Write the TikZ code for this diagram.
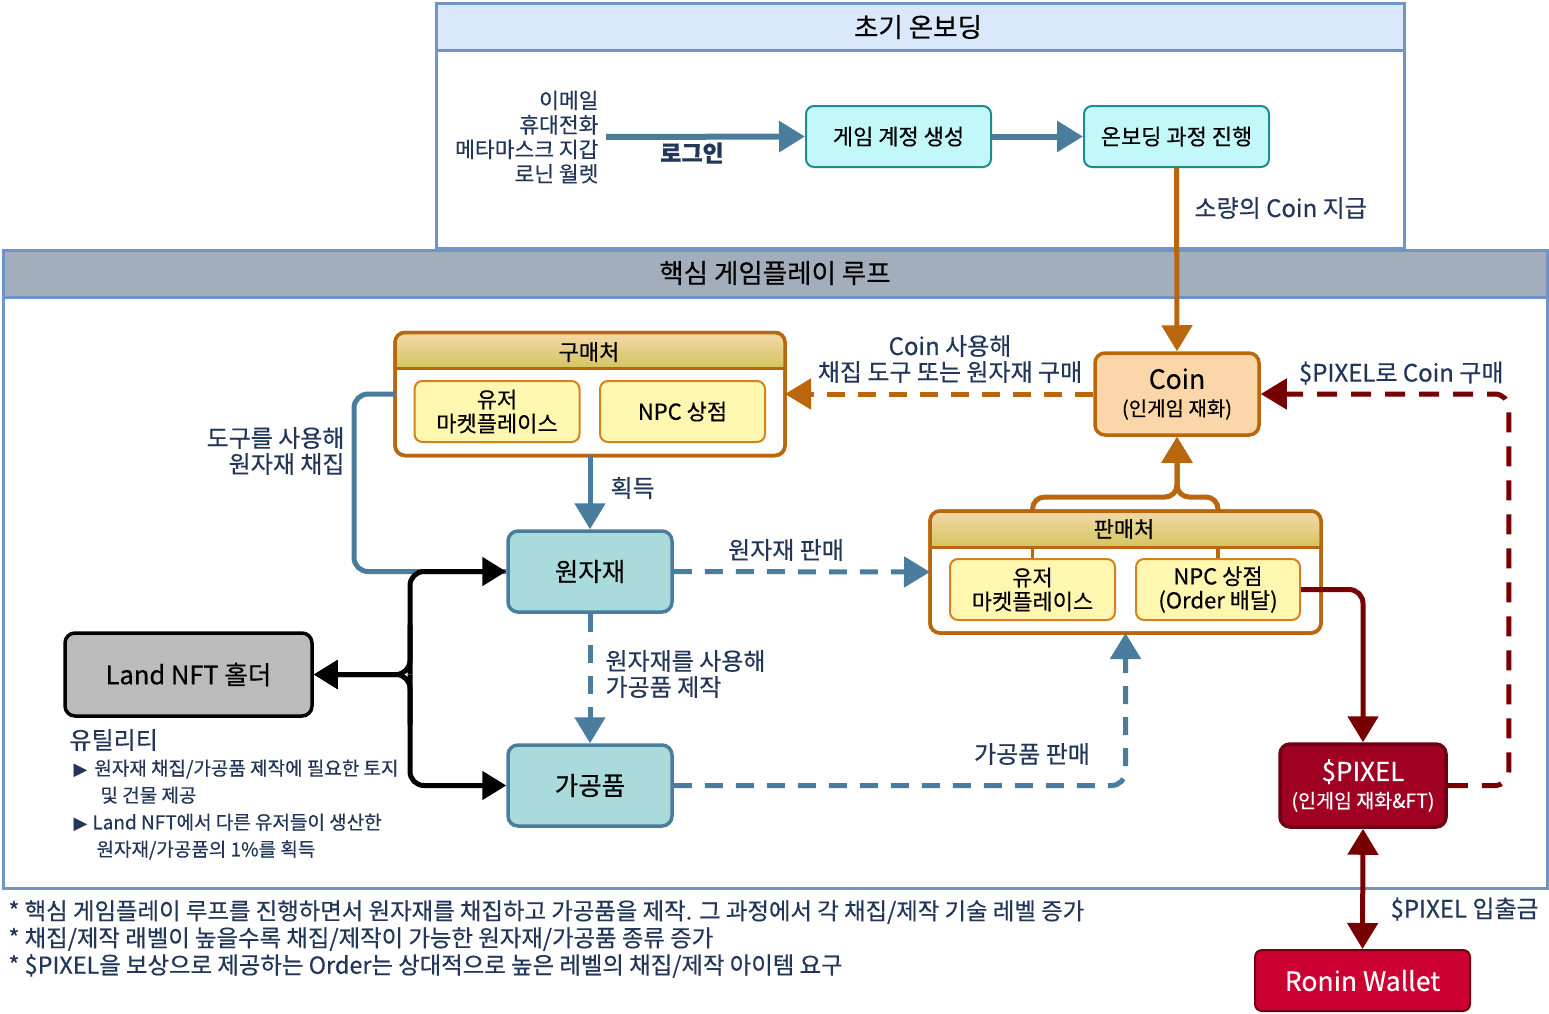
\documentclass[tikz,border=0pt]{standalone}
\usepackage{fontspec}
\setmainfont{Noto Sans CJK KR}[FakeBold=0.4]
\newfontfamily\symfont{DejaVu Sans}
\usepackage{tikz}
\usetikzlibrary{arrows.meta, positioning, calc}
\definecolor{PanelBlue}{HTML}{7094C8}
\definecolor{HeadBlue}{HTML}{DAE8FC}
\definecolor{HeadGray}{HTML}{A3AEBC}
\definecolor{LabelNavy}{HTML}{22365A}
\definecolor{SteelBlue}{HTML}{4A7C9E}
\definecolor{CyanFill}{HTML}{C2F8FA}
\definecolor{CyanEdge}{HTML}{1E8C8C}
\definecolor{TealFill}{HTML}{A9DADC}
\definecolor{CoinOrange}{HTML}{BA660C}
\definecolor{CoinFill}{HTML}{FBD6A8}
\definecolor{ShopFill}{HTML}{FFF7B0}
\definecolor{ShopEdge}{HTML}{D4821E}
\definecolor{GoldTop}{HTML}{F5D9A8}
\definecolor{GoldBottom}{HTML}{D2C460}
\definecolor{Maroon}{HTML}{780000}
\definecolor{PixelFill}{HTML}{A00022}
\definecolor{PixelEdge}{HTML}{6E0010}
\definecolor{RoninFill}{HTML}{CC0030}
\definecolor{LandGray}{HTML}{BBBBBB}
\newcommand\headfont{\fontsize{26.5}{30}\selectfont}
\newcommand\boxfont{\fontsize{22}{24}\selectfont}
\newcommand\bigfont{\fontsize{25.5}{29}\selectfont}
\newcommand\lblfont{\fontsize{24}{26}\selectfont}
\newcommand\listfont{\fontsize{21.5}{24.5}\selectfont}
\newcommand\utilfont{\fontsize{19}{27}\selectfont}
\newcommand\notefont{\fontsize{23.4}{27}\selectfont}

\begin{document}
\begin{tikzpicture}[
    x=1pt, y=-1pt,
    panel/.style={rectangle, draw=PanelBlue, line width=3pt, fill=white, outer sep=0pt, inner sep=0pt},
    stepbox/.style={rectangle, rounded corners=8pt, draw=CyanEdge, line width=2pt, fill=CyanFill,
                    minimum width=185pt, minimum height=61pt, font=\boxfont},
    shopbox/.style={rectangle, rounded corners=8pt, draw=ShopEdge, line width=2pt, fill=ShopFill,
                    minimum width=165pt, minimum height=61pt, align=center, font=\boxfont},
    container/.style={rectangle, rounded corners=10pt, draw=CoinOrange, line width=3.5pt, fill=white,
                      minimum width=390pt, minimum height=123pt, outer sep=0pt},
    itembox/.style={rectangle, rounded corners=10pt, draw=SteelBlue, line width=3.5pt, fill=TealFill,
                    minimum width=164pt, minimum height=81pt, font=\bigfont},
    lbl/.style={text=LabelNavy, font=\lblfont},
    flow/.style={SteelBlue, line width=5pt, -{Triangle[length=26pt, width=30pt]}},
    flowdash/.style={flow, dash pattern=on 18pt off 13pt},
    gold/.style={CoinOrange, line width=5pt, -{Triangle[length=26pt, width=30pt]}},
    golddash/.style={gold, dash pattern=on 18pt off 13pt},
    pix/.style={Maroon, line width=5pt, -{Triangle[length=26pt, width=30pt]}},
    pixdash/.style={pix, dash pattern=on 20pt off 14pt},
    hold/.style={black, line width=5pt, -{Triangle[length=24pt, width=28pt]}}
]
    \useasboundingbox (0,0) rectangle (1549,1013);
    \fill[white] (0,0) rectangle (1549,1013);

    % Onboarding panel
    \node[panel, minimum width=968pt, minimum height=245pt] (onboard) at (920,125.5) {};
    \draw[PanelBlue, line width=3pt, fill=HeadBlue] (onboard.north west) rectangle ($(onboard.north east)+(0,47)$);
    \node[font=\headfont] (onboardtitle) at (918,27) {초기 온보딩};

    % Core loop panel
    \node[panel, minimum width=1544pt, minimum height=638pt] (loop) at (775,569) {};
    \draw[PanelBlue, line width=3pt, fill=HeadGray] (loop.north west) rectangle ($(loop.north east)+(0,47)$);
    \node[font=\headfont] (looptitle) at (775,273) {핵심 게임플레이 루프};

    % Login steps
    \node[lbl, font=\listfont, anchor=east, align=right] (logins) at (602,137)
        {이메일\\휴대전화\\메타마스크 지갑\\로닌 월렛};
    \node[stepbox] (acct) at (898.5,136.5) {게임 계정 생성};
    \node[stepbox] (onb) at (1176.5,136.5) {온보딩 과정 진행};
    \draw[flow, line width=6pt, shorten <=4pt] (logins.east) -- (acct.west);
    \node[lbl, font=\fontsize{23}{26}\selectfont\bfseries] (loginlbl) at (692,153) {로그인};
    \draw[flow, line width=6pt] (acct.east) -- (onb.west);

    % Coin
    \node[rectangle, rounded corners=10pt, draw=CoinOrange, line width=3.5pt, fill=CoinFill,
          minimum width=164pt, minimum height=82pt, align=center, font=\fontsize{20}{22}\selectfont]
        (coin) at (1177,394) {{\fontsize{26.5}{28}\selectfont Coin}\\[5pt](인게임 재화)};
    \draw[gold] (onb.south) -- (coin.north);
    \node[lbl, anchor=west] (giftlbl) at (1191,208) {소량의 Coin 지급};

    % Buying places
    \node[container] (buy) at (590,394) {};
    \begin{scope}
        \clip[rounded corners=10pt] (buy.north west) rectangle (buy.south east);
        \shade[top color=GoldTop, bottom color=GoldBottom] (buy.north west) rectangle ($(buy.north east)+(0,36)$);
    \end{scope}
    \draw[CoinOrange, line width=3pt] ($(buy.north west)+(0,36)$) -- ($(buy.north east)+(0,36)$);
    \draw[CoinOrange, line width=3.5pt, rounded corners=10pt] (buy.north west) rectangle (buy.south east);
    \node[font=\boxfont] (buytitle) at (589,352) {구매처};
    \node[shopbox] (buyuser) at (497,411.5) {유저\\마켓플레이스};
    \node[shopbox] (buynpc) at (682.5,411.5) {NPC 상점};

    % Selling places
    \node[container, minimum width=391pt, minimum height=122pt] (sell) at (1125.5,572) {};
    \begin{scope}
        \clip[rounded corners=10pt] (sell.north west) rectangle (sell.south east);
        \shade[top color=GoldTop, bottom color=GoldBottom] (sell.north west) rectangle ($(sell.north east)+(0,36)$);
    \end{scope}
    \draw[CoinOrange, line width=3pt] ($(sell.north west)+(0,36)$) -- ($(sell.north east)+(0,36)$);
    \draw[CoinOrange, line width=3.5pt, rounded corners=10pt] (sell.north west) rectangle (sell.south east);
    \node[font=\boxfont] (selltitle) at (1124,529) {판매처};
    \node[shopbox] (selluser) at (1032.5,589.5) {유저\\마켓플레이스};
    \node[shopbox, minimum width=164pt] (sellnpc) at (1218,589.5) {NPC 상점\\(Order 배달)};
    \draw[CoinOrange, line width=3.5pt] (selluser.north) -- ++(0,-12);
    \draw[CoinOrange, line width=3.5pt] (sellnpc.north) -- ++(0,-12);

    % Goods
    \node[itembox] (raw) at (590,571.5) {원자재};
    \node[itembox] (proc) at (590,785.5) {가공품};

    % Land NFT
    \node[rectangle, rounded corners=10pt, draw=black, line width=3.5pt, fill=LandGray,
          minimum width=247pt, minimum height=83pt, font=\bigfont] (land) at (188.5,674.5) {Land NFT 홀더};
    \node[lbl, font=\fontsize{24}{26}\selectfont, anchor=west] (utiltitle) at (66,740) {유틸리티};
    \node[lbl, font=\utilfont, anchor=north west, align=left] (util1) at (70,756)
        {{\symfont\fontsize{18}{27}\selectfont ▶}\hspace{7pt}원자재 채집/가공품 제작에 필요한 토지\\\hspace{27pt}및 건물 제공};
    \node[lbl, font=\utilfont, anchor=north west, align=left] (util2) at (70,810)
        {{\symfont\fontsize{18}{27}\selectfont ▶}\hspace{5pt}Land NFT에서 다른 유저들이 생산한\\\hspace{23pt}원자재/가공품의 1\%를 획득};

    % $PIXEL and wallet
    \node[rectangle, rounded corners=10pt, draw=PixelEdge, line width=3.5pt, fill=PixelFill, text=white,
          minimum width=166pt, minimum height=83pt, align=center, font=\fontsize{19.5}{22}\selectfont]
        (pixel) at (1363,785.5) {{\fontsize{26}{28}\selectfont \$PIXEL}\\[5pt](인게임 재화\&FT)};
    \node[rectangle, rounded corners=7pt, draw=PixelEdge, line width=2pt, fill=RoninFill, text=white,
          minimum width=215pt, minimum height=61pt, font=\fontsize{26.5}{28}\selectfont]
        (ronin) at (1362.5,980.5) {Ronin Wallet};

    % Flows of the loop
    \draw[flow, -, rounded corners=14pt] (buy.west) -- ++(-41,0) |- (raw.west);
    \node[lbl, anchor=east, align=right] (toollbl) at (348,451) {도구를 사용해\\원자재 채집};
    \draw[flow] (buy.south) -- (raw.north);
    \node[lbl, anchor=west] (getlbl) at (607,488) {획득};
    \draw[flowdash] (raw.south) -- (proc.north);
    \node[lbl, anchor=west, align=left] (makelbl) at (602,674) {원자재를 사용해\\가공품 제작};
    \draw[flowdash] (raw.east) -- (sell.west);
    \node[lbl] (rawsell) at (786,550) {원자재 판매};
    \draw[flowdash, rounded corners=14pt] (proc.east) -| (sell.south);
    \node[lbl] (procsell) at (1032,754) {가공품 판매};

    \draw[golddash] (coin.west) -- (buy.east);
    \node[lbl, align=center] (buylbl) at (950,359) {Coin 사용해\\채집 도구 또는 원자재 구매};
    \coordinate (fork) at (1177,497);
    \draw[gold, rounded corners=12pt] (selluser |- sell.north) |- (fork) -- (coin.south);
    \draw[gold, rounded corners=12pt] (sellnpc |- sell.north) |- (fork) -- (coin.south);

    % Land NFT holder links
    \coordinate (hub) at (410,674.5);
    \draw[hold, rounded corners=14pt] (hub) |- (raw.west);
    \draw[hold, rounded corners=14pt] (hub) |- (proc.west);
    \draw[hold, rounded corners=14pt] ($(hub)+(0,-50)$) -- (hub) -- (land.east);
    \draw[hold, rounded corners=14pt] ($(hub)+(0,50)$) -- (hub) -- (land.east);

    % $PIXEL links
    \draw[pix, rounded corners=14pt] (sellnpc.east) -| (pixel.north);
    \draw[pixdash, rounded corners=14pt] (pixel.east) -- ++(61,0) |- (coin.east);
    \node[lbl, anchor=east] (pixbuy) at (1507,373) {\$PIXEL로 Coin 구매};
    \draw[pix, {Triangle[length=26pt, width=30pt]}-{Triangle[length=26pt, width=30pt]}] (pixel.south) -- (ronin.north);
    \node[lbl, anchor=west] (walletlbl) at (1387,909) {\$PIXEL 입출금};

    % Notes
    \node[lbl, font=\notefont, anchor=west] (note1) at (5,912) {* 핵심 게임플레이 루프를 진행하면서 원자재를 채집하고 가공품을 제작. 그 과정에서 각 채집/제작 기술 레벨 증가};
    \node[lbl, font=\notefont, anchor=west] (note2) at (5,939) {* 채집/제작 래벨이 높을수록 채집/제작이 가능한 원자재/가공품 종류 증가};
    \node[lbl, font=\notefont, anchor=west] (note3) at (5,966) {* \$PIXEL을 보상으로 제공하는 Order는 상대적으로 높은 레벨의 채집/제작 아이템 요구};
\end{tikzpicture}
\end{document}
